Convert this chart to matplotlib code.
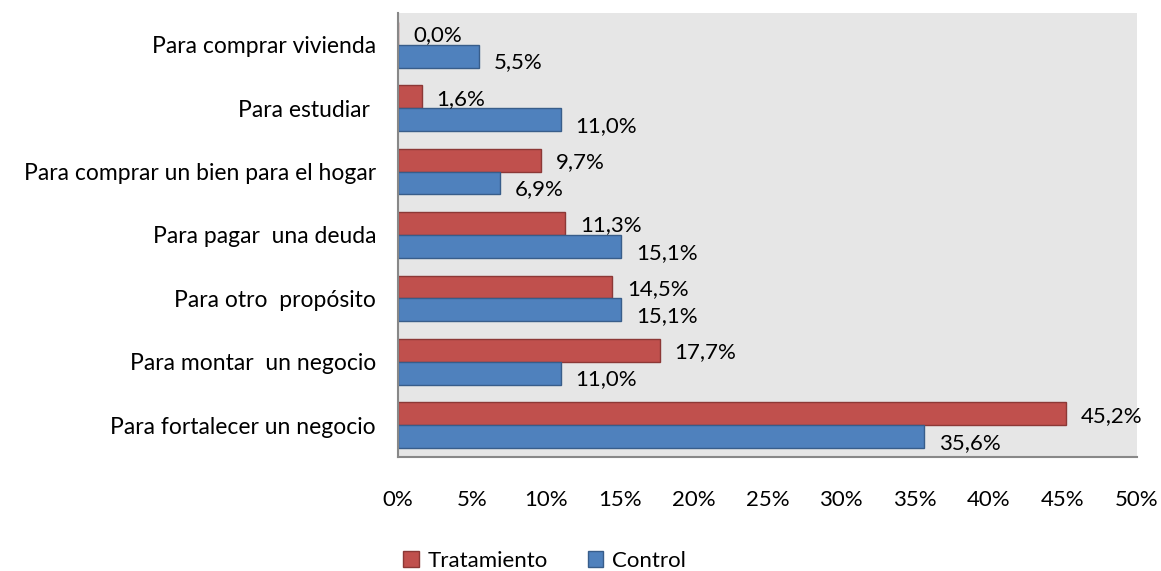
import matplotlib.pyplot as plt
import numpy as np

categories = ["Para fortalecer un negocio", "Para montar  un negocio", "Para otro  propósito",
              "Para pagar  una deuda", "Para comprar un bien para el hogar",
              "Para estudiar ", "Para comprar vivienda"]
tratamiento = [45.2, 17.7, 14.5, 11.3, 9.7, 1.6, 0.0]
control = [35.6, 11.0, 15.1, 15.1, 6.9, 11.0, 5.5]
xticks = [0, 5, 10, 15, 20, 25, 30, 35, 40, 45, 50]

plt.rcParams['font.family'] = ['Lato', 'DejaVu Sans']
fs = 16

fig = plt.figure(figsize=(11.61, 5.71), dpi=100)
ax = fig.add_axes([0.343, 0.2, 0.636, 0.777])
ax.set_facecolor('#E6E6E6')

y = np.arange(len(categories))
h = 0.36
red = ax.barh(y + h / 2, tratamiento, height=h, color='#C0504D', edgecolor='#8C3836',
              linewidth=1, label='Tratamiento')
blue = ax.barh(y - h / 2, control, height=h, color='#4F81BD', edgecolor='#385D8A',
               linewidth=1, label='Control')

for yi, v in zip(y, tratamiento):
    ax.text(v + 1.0, yi + h / 2 - 0.03, f"{v:.1f}%".replace('.', ','), va='center',
            ha='left', fontsize=fs)
for yi, v in zip(y, control):
    ax.text(v + 1.0, yi - h / 2 - 0.1, f"{v:.1f}%".replace('.', ','), va='center',
            ha='left', fontsize=fs)

ax.set_xlim(0, 50)
ax.set_ylim(-0.5, 6.5)
ax.set_xticks(xticks)
ax.set_xticklabels([f"{t}%" for t in xticks], fontsize=fs)
ax.set_yticks(y)
ax.set_yticklabels(categories, fontsize=16.5)
ax.tick_params(axis='x', length=0, pad=24)
ax.tick_params(axis='y', length=0, pad=16)
for s in ['top', 'right']:
    ax.spines[s].set_visible(False)
for s in ['left', 'bottom']:
    ax.spines[s].set_color('#888888')
    ax.spines[s].set_linewidth(1.5)

fig.legend(handles=[red, blue], loc='lower center', bbox_to_anchor=(0.469, -0.035), ncol=2,
           frameon=False, fontsize=fs, handlelength=0.7, handleheight=0.7,
           handletextpad=0.4, columnspacing=1.8)

fig.savefig('out.png', dpi=100)
